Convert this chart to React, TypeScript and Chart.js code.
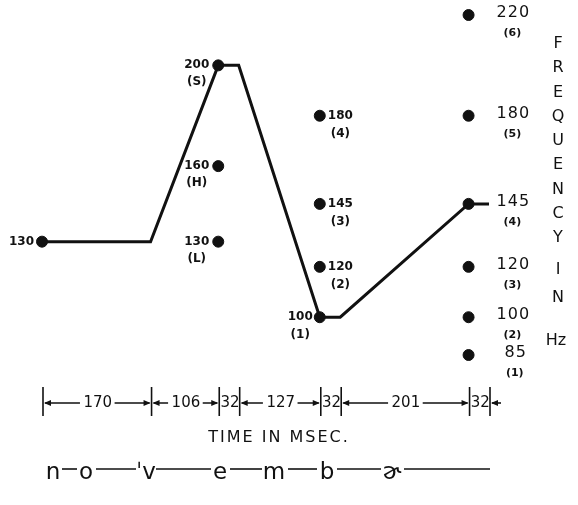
import React, { useEffect, useRef } from "react";
import { Chart, registerables } from "chart.js";

Chart.register(...registerables);

// ---- data ----
const segmentDurations = [170, 106, 32, 127, 32, 201, 32];
const contourTimes = [0, 170, 276, 308, 435, 467, 668, 700];
const contourHz = [130, 130, 200, 200, 100, 100, 145, 145];

const startTime = 0;
const startHz = [130];

const peakTime = 276;
const peakHz = [200, 160, 130];
const peakSub = ["(S)", "(H)", "(L)"];

const lowTime = 435;
const lowHz = [180, 145, 120, 100];
const lowSub = ["(4)", "(3)", "(2)", "(1)"];

const endTime = 668;
const endHz = [220, 180, 145, 120, 100, 85];
const endSub = ["(6)", "(5)", "(4)", "(3)", "(2)", "(1)"];

const axisTitleLetters = ["F", "R", "E", "Q", "U", "E", "N", "C", "Y", "I", "N", "Hz"];
const timeTitle = "TIME IN MSEC.";
const phonemes = ["n", "o", "ˈv", "e", "m", "b", "ɚ"];

const FONT = "'DejaVu Sans', sans-serif";

function arrowHead(ctx: CanvasRenderingContext2D, x: number, y: number, dir: number) {
  ctx.beginPath();
  ctx.moveTo(x, y);
  ctx.lineTo(x - dir * 7, y - 3);
  ctx.lineTo(x - dir * 7, y + 3);
  ctx.closePath();
  ctx.fill();
}

const annotationPlugin = {
  id: "annotations",
  afterDraw(chart: any) {
    const ctx: CanvasRenderingContext2D = chart.ctx;
    const xs = chart.scales.x;
    const ys = chart.scales.y;
    ctx.save();
    ctx.fillStyle = "#111";
    ctx.strokeStyle = "#111";
    ctx.textBaseline = "middle";

    // start label
    {
      const px = xs.getPixelForValue(startTime);
      const py = ys.getPixelForValue(startHz[0]);
      ctx.font = `bold 12px ${FONT}`;
      ctx.textAlign = "right";
      ctx.fillText(String(startHz[0]), px - 8, py);
    }

    // peak group: labels to the left
    peakHz.forEach((hz, i) => {
      const px = xs.getPixelForValue(peakTime);
      const py = ys.getPixelForValue(hz);
      ctx.font = `bold 12px ${FONT}`;
      ctx.textAlign = "right";
      const t = String(hz);
      const w = ctx.measureText(t).width;
      const right = px - 9;
      ctx.fillText(t, right, py);
      ctx.textAlign = "center";
      ctx.fillText(peakSub[i], right - w / 2, py + 17);
    });

    // low group
    lowHz.forEach((hz, i) => {
      const px = xs.getPixelForValue(lowTime);
      const py = ys.getPixelForValue(hz);
      ctx.font = `bold 12px ${FONT}`;
      const t = String(hz);
      const w = ctx.measureText(t).width;
      if (hz === 100) {
        ctx.textAlign = "right";
        ctx.fillText(t, px - 7, py);
        ctx.textAlign = "center";
        ctx.fillText(lowSub[i], px - 7 - w / 2, py + 18);
      } else {
        ctx.textAlign = "left";
        ctx.fillText(t, px + 8, py);
        ctx.textAlign = "center";
        ctx.fillText(lowSub[i], px + 8 + w / 2, py + 18);
      }
    });

    // end group
    endHz.forEach((hz, i) => {
      const px = xs.getPixelForValue(endTime);
      const py = ys.getPixelForValue(hz);
      ctx.font = `16px ${FONT}`;
      (ctx as any).letterSpacing = "1px";
      ctx.textAlign = "left";
      const t = String(hz);
      const w = ctx.measureText(t).width;
      const lx = px + 28 + (t.length < 3 ? 8 : 0);
      ctx.fillText(t, lx, py - 2);
      (ctx as any).letterSpacing = "0px";
      ctx.font = `bold 11px ${FONT}`;
      ctx.textAlign = "center";
      ctx.fillText(endSub[i], lx + w / 2 - 1, py + 18);
    });

    // vertical axis title
    const letterY = [44, 68, 93, 117, 141, 165, 190, 214, 238, 270, 298, 341];
    ctx.font = `16px ${FONT}`;
    ctx.textAlign = "center";
    axisTitleLetters.forEach((l, i) => {
      ctx.fillText(l, l === "Hz" ? 556 : 558, letterY[i]);
    });

    // time bar
    const barY = 403;
    const bps = [0];
    segmentDurations.forEach((d) => bps.push(bps[bps.length - 1] + d));
    ctx.lineWidth = 1.6;
    bps.forEach((t) => {
      const x = xs.getPixelForValue(t) + 1;
      ctx.beginPath();
      ctx.moveTo(x, 387);
      ctx.lineTo(x, 416);
      ctx.stroke();
    });
    ctx.font = `15px ${FONT}`;
    ctx.textAlign = "center";
    segmentDurations.forEach((d, i) => {
      const a = xs.getPixelForValue(bps[i]) + 1;
      const b = xs.getPixelForValue(bps[i + 1]) + 1;
      const mid = (a + b) / 2;
      const t = String(d);
      ctx.fillText(t, mid + 0.5, barY);
      if (d > 40) {
        const w = ctx.measureText(t).width;
        ctx.beginPath();
        ctx.moveTo(a + 2, barY);
        ctx.lineTo(mid - w / 2 - 3, barY);
        ctx.moveTo(mid + w / 2 + 3, barY);
        ctx.lineTo(b - 2, barY);
        ctx.stroke();
        arrowHead(ctx, a + 1, barY, -1);
        arrowHead(ctx, b - 1, barY, 1);
      }
    });
    {
      const e = xs.getPixelForValue(bps[bps.length - 1]) + 1;
      ctx.beginPath();
      ctx.moveTo(e + 2, barY);
      ctx.lineTo(e + 11, barY);
      ctx.stroke();
      arrowHead(ctx, e + 1, barY, -1);
    }

    // time title
    ctx.font = `16px ${FONT}`;
    (ctx as any).letterSpacing = "2px";
    ctx.textAlign = "center";
    ctx.fillText(timeTitle, 279, 438);
    (ctx as any).letterSpacing = "0px";

    // phonetic transcription
    const phX = [53, 86, 146, 220, 274, 327, 392];
    const dashes = [
      [62, 77],
      [96, 136],
      [156, 211],
      [230, 262],
      [288, 317],
      [337, 381],
      [404, 490],
    ];
    ctx.font = `23px ${FONT}`;
    ctx.textAlign = "center";
    ctx.textBaseline = "alphabetic";
    phonemes.forEach((p, i) => ctx.fillText(p, phX[i], 479));
    ctx.lineWidth = 1.6;
    dashes.forEach(([a, b]) => {
      ctx.beginPath();
      ctx.moveTo(a, 469);
      ctx.lineTo(b, 469);
      ctx.stroke();
    });

    ctx.restore();
  },
};

export default function App() {
  const ref = useRef<HTMLCanvasElement | null>(null);
  useEffect(() => {
    if (!ref.current) return;
    const dots: { x: number; y: number }[] = [];
    startHz.forEach((y) => dots.push({ x: startTime, y }));
    peakHz.forEach((y) => dots.push({ x: peakTime, y }));
    lowHz.forEach((y) => dots.push({ x: lowTime, y }));
    endHz.forEach((y) => dots.push({ x: endTime, y }));

    const chart = new Chart(ref.current, {
      type: "scatter",
      data: {
        datasets: [
          {
            type: "line",
            data: contourTimes.map((t, i) => ({ x: t, y: contourHz[i] })),
            borderColor: "#111",
            borderWidth: 3,
            pointRadius: 0,
            fill: false,
            tension: 0,
            clip: false as any,
          } as any,
          {
            data: dots,
            backgroundColor: "#111",
            borderColor: "#111",
            pointRadius: 5.5,
            pointHoverRadius: 5.5,
            clip: false as any,
          } as any,
        ],
      },
      options: {
        animation: false,
        responsive: false,
        devicePixelRatio: 1,
        events: [],
        layout: { padding: { left: 42, right: 89, top: 15, bottom: 150 } },
        plugins: { legend: { display: false }, tooltip: { enabled: false } },
        scales: {
          x: { type: "linear", min: 0, max: 700, display: false },
          y: { type: "linear", min: 85, max: 220, display: false },
        },
      },
      plugins: [annotationPlugin],
    });
    return () => chart.destroy();
  }, []);

  return (
    <div style={{ position: "absolute", left: 0, top: 0, width: 578, height: 505, background: "#fff" }}>
      <canvas ref={ref} width={578} height={505} />
    </div>
  );
}
